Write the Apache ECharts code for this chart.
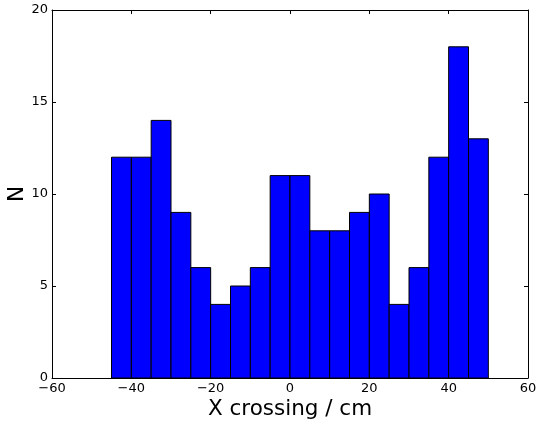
<!DOCTYPE html>
<html>
<head>
  <meta charset="utf-8">
  <title>X crossing histogram</title>
  <script src="https://cdn.jsdelivr.net/npm/echarts@6.0.0/dist/echarts.min.js"></script>
  <style>
    body { margin: 0; background: #fff; }
    #chart { width: 539px; height: 427px; }
  </style>
</head>
<body>
  <div id="chart"></div>
  <script>
    // histogram bins (left edges, cm) and counts
    const binStarts = [-45, -40, -35, -30, -25, -20, -15, -10, -5, 0, 5, 10, 15, 20, 25, 30, 35, 40, 45];
    const binWidth = 5;
    const counts = [12, 12, 14, 9, 6, 4, 5, 6, 11, 11, 8, 8, 9, 10, 4, 6, 12, 18, 13];

    const fmt = v => String(v).replace('-', '\u2212');
    const font = 'DejaVu Sans';

    const chart = echarts.init(document.getElementById('chart'));
    const tickIn = { show: true, inside: true, length: 4, lineStyle: { color: '#000', width: 1 } };
    const line = { show: true, onZero: false, lineStyle: { color: '#000', width: 1 } };

    chart.setOption({
      animation: false,
      grid: { left: 52, right: 11, top: 10, bottom: 49, outerBoundsMode: 'none', containLabel: false },
      xAxis: [{
        type: 'value', min: -60, max: 60, interval: 20,
        name: 'X crossing / cm', nameLocation: 'middle', nameGap: 20, nameMoveOverlap: false,
        nameTextStyle: { fontFamily: font, fontSize: 21.5, color: '#000' },
        axisLine: line,
        axisTick: tickIn,
        axisLabel: { formatter: fmt, fontFamily: font, fontSize: 13, color: '#000', margin: 4 },
        splitLine: { show: false }
      }, {
        type: 'value', position: 'top', min: -60, max: 60, interval: 20,
        axisLine: line,
        axisTick: tickIn, axisLabel: { show: false }, splitLine: { show: false }
      }],
      yAxis: [{
        type: 'value', position: 'left', min: 0, max: 20, interval: 5,
        name: 'N', nameLocation: 'middle', nameGap: 24, nameMoveOverlap: false,
        nameTextStyle: { fontFamily: font, fontSize: 21.5, color: '#000' },
        axisLine: line,
        axisTick: tickIn,
        axisLabel: { fontFamily: font, fontSize: 13, color: '#000', margin: 4 },
        splitLine: { show: false }
      }, {
        type: 'value', position: 'right', min: 0, max: 20, interval: 5,
        axisLine: line,
        axisTick: tickIn, axisLabel: { show: false }, splitLine: { show: false }
      }],
      series: [{
        type: 'custom',
        data: binStarts.map((x, i) => [x, x + binWidth, counts[i]]),
        renderItem: function (params, api) {
          const p0 = api.coord([api.value(0), api.value(2)]);
          const p1 = api.coord([api.value(1), 0]);
          return {
            type: 'rect',
            shape: { x: p0[0], y: p0[1], width: p1[0] - p0[0], height: p1[1] - p0[1] },
            style: { fill: '#0000ff', stroke: '#000', lineWidth: 1 }
          };
        },
        encode: { x: [0, 1], y: 2 }
      }]
    });
  </script>
</body>
</html>
